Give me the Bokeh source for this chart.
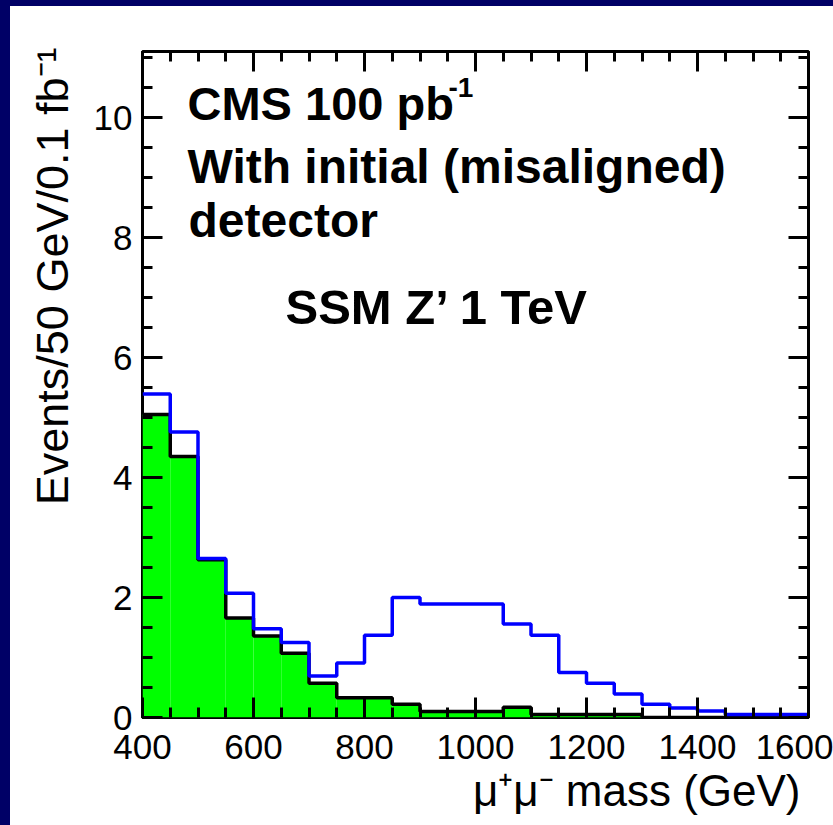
from bokeh.plotting import figure
from bokeh.models import (Range1d, LinearAxis, Label, SingleIntervalTicker, Title, Div,
                          CustomJSTickFormatter)
from bokeh.layouts import column, row
from bokeh.embed import file_html
from bokeh.resources import INLINE

# ---- data ----
bin_edges = [400, 450, 500, 550, 600, 650, 700, 750, 800, 850, 900, 950, 1000,
             1050, 1100, 1150, 1200, 1250, 1300, 1350, 1400, 1450, 1500, 1550, 1600]
background = [5.05, 4.35, 2.63, 1.66, 1.36, 1.07, 0.57, 0.33, 0.33, 0.22, 0.10, 0.10,
              0.10, 0.17, 0.05, 0.05, 0.05, 0.05, 0.0, 0.0, 0.0, 0.0, 0.0, 0.0]
signal_plus_bkg = [5.39, 4.76, 2.65, 2.07, 1.48, 1.25, 0.69, 0.91, 1.37, 2.00, 1.89, 1.89,
                   1.89, 1.56, 1.37, 0.75, 0.57, 0.39, 0.22, 0.16, 0.11, 0.05, 0.05, 0.05]
x_ticks = [400, 600, 800, 1000, 1200, 1400, 1600]
y_ticks = [0, 2, 4, 6, 8, 10]

NAVY = "#000066"
FONT = "Liberation Sans"

# page geometry: navy band 6px on top, 10px on the left
TOP_BAND, LEFT_BAND = 6, 10
FIG_W, FIG_H = 833 - LEFT_BAND, 825 - TOP_BAND
FR_LEFT, FR_TOP, FR_RIGHT, FR_BOTTOM = 142, 51, 808, 717  # page pixels of the frame

p = figure(width=FIG_W, height=FIG_H, output_backend="svg", toolbar_location=None,
           x_range=Range1d(x_ticks[0], x_ticks[-1]), y_range=Range1d(0, 11.1),
           min_border_left=FR_LEFT - LEFT_BAND, min_border_right=833 - FR_RIGHT,
           min_border_top=FR_TOP - TOP_BAND, min_border_bottom=825 - FR_BOTTOM,
           x_axis_location=None, y_axis_location=None)
p.background_fill_color = "white"
p.border_fill_color = "white"
p.outline_line_color = "black"
p.outline_line_width = 3
p.xgrid.visible = False
p.ygrid.visible = False

# histograms
p.quad(left=bin_edges[:-1], right=bin_edges[1:], bottom=0, top=background,
       fill_color="#00ff00", line_color=None)
p.step(x=bin_edges, y=background + [background[-1]], mode="after",
       line_color="black", line_width=3.5)
p.step(x=bin_edges, y=signal_plus_bkg + [signal_plus_bkg[-1]], mode="after",
       line_color="#0000ff", line_width=3.5)

blank = CustomJSTickFormatter(code="return ''")


def style_axis(ax, show_labels, standoff):
    ax.axis_line_color = None
    ax.major_tick_in = 20
    ax.major_tick_out = 0
    ax.minor_tick_in = 10
    ax.minor_tick_out = 0
    ax.major_tick_line_width = 3
    ax.minor_tick_line_width = 3
    ax.major_tick_line_color = "black"
    ax.minor_tick_line_color = "black"
    ax.major_label_text_font = FONT
    ax.major_label_text_font_size = "35px"
    ax.major_label_text_color = "black"
    ax.major_label_standoff = standoff
    if not show_labels:
        ax.formatter = blank
        ax.major_label_standoff = 0


for side, show, so in (("below", True, 17), ("above", False, 0)):
    ax = LinearAxis(ticker=SingleIntervalTicker(interval=200, num_minor_ticks=4))
    style_axis(ax, show, so)
    p.add_layout(ax, side)

for side, show, so in (("left", True, 10), ("right", False, 0)):
    ax = LinearAxis(ticker=SingleIntervalTicker(interval=2, num_minor_ticks=4))
    style_axis(ax, show, so)
    p.add_layout(ax, side)

# axis titles (ROOT style: aligned to the end of the axis)
xt = Title(text="\u03bc\u207a\u03bc\u207b mass (GeV)", align="right", offset=8,
           text_font=FONT, text_font_size="44px", text_font_style="normal",
           text_color="black", standoff=5)
p.add_layout(xt, "below")
yt = Title(text="Events/50 GeV/0.1 fb\u207b\u00b9", align="right", offset=-4,
           text_font=FONT, text_font_size="45px", text_font_style="normal",
           text_color="black", standoff=25)
p.add_layout(yt, "left")

# in-frame annotations; frame-relative screen units
BASE_SHIFT = 18


def lab(text, px, py, size):
    lb = Label(x=px - FR_LEFT, y=FR_BOTTOM - py + BASE_SHIFT, x_units="screen", y_units="screen",
               text=text, text_font=FONT, text_font_size=f"{size}px",
               text_font_style="bold", text_color="black",
               text_align="left", text_baseline="alphabetic")
    p.add_layout(lb)


lab("CMS 100 pb", 187, 121, 47)
lab("-1", 448, 105, 28)
lab("With initial (misaligned)", 187, 184, 48)
lab("detector", 188, 238, 48)
lab("SSM Z\u2019 1 TeV", 285, 324, 49)

top_band = Div(width=833, height=TOP_BAND, margin=0, styles={"background-color": NAVY})
left_band = Div(width=LEFT_BAND, height=FIG_H, margin=0, styles={"background-color": NAVY})
page = column(top_band, row(left_band, p, spacing=0), spacing=0)

open("out.html", "w").write(file_html(page, INLINE))
